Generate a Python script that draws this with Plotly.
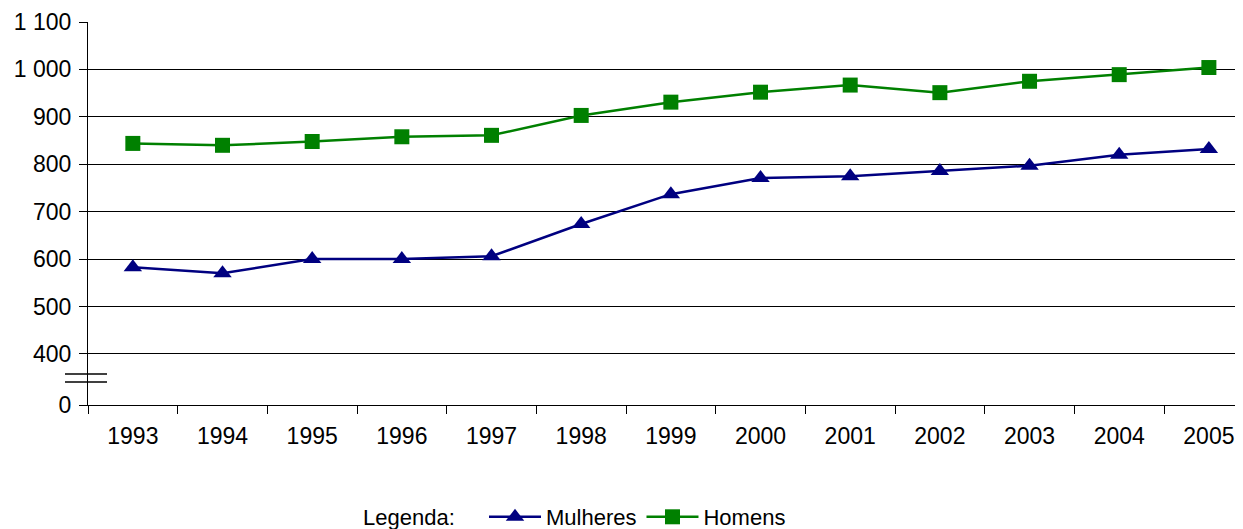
import plotly.graph_objects as go

years = ["1993", "1994", "1995", "1996", "1997", "1998", "1999",
         "2000", "2001", "2002", "2003", "2004", "2005"]
mulheres = [583, 570, 600, 600, 606, 674, 737, 771, 775, 786, 797, 820, 832]
homens = [844, 840, 848, 858, 861, 903, 931, 952, 967, 951, 975, 989, 1004]

# broken axis: "0" label shown at this axis position
zero_pos = 292.4
ytick_vals = [zero_pos, 400, 500, 600, 700, 800, 900, 1000, 1100]
ytick_text = ["0", "400", "500", "600", "700", "800", "900", "1 000", "1 100"]

FONT = "Liberation Sans, Arial, sans-serif"
FS = 23
LFS = 22

# page has an 8px body margin; figure is sized/offset to compensate
OFF = 8
W, H = 1243 - OFF, 529 - OFF
L, T, B = 88 - OFF, 22 - OFF, 124
PW = W - L
PH = H - T - B
LEG_Y = 517

fig = go.Figure()
fig.add_trace(go.Scatter(
    x=years, y=mulheres, name="Mulheres", mode="lines+markers",
    line=dict(color="#000080", width=2.5),
    marker=dict(symbol="triangle-up", size=16, color="#000080"),
))
fig.add_trace(go.Scatter(
    x=years, y=homens, name="Homens", mode="lines+markers",
    line=dict(color="#008000", width=2.5),
    marker=dict(symbol="square", size=15, color="#008000"),
))

# axis break marks
for yv in (358, 341):
    fig.add_shape(type="line", xref="paper", yref="y",
                  x0=(65 - 88) / PW, x1=(107 - 88) / PW, y0=yv, y1=yv,
                  line=dict(color="black", width=1.5))

fig.add_annotation(text="Legenda:", xref="paper", yref="paper",
                   x=(409 - 88) / PW, y=(405 - LEG_Y) / PH,
                   xanchor="center", yanchor="middle", showarrow=False,
                   font=dict(family=FONT, size=LFS, color="black"))

fig.update_layout(
    width=W, height=H,
    margin=dict(l=L, r=0, t=T, b=B, autoexpand=False),
    paper_bgcolor="white", plot_bgcolor="white",
    font=dict(family=FONT, size=FS, color="black"),
    showlegend=True,
    legend=dict(orientation="h", xref="paper", yref="container",
                x=(484 - 88) / PW, y=1 - (LEG_Y - OFF) / H,
                xanchor="left", yanchor="middle",
                font=dict(family=FONT, size=LFS, color="black"),
                itemwidth=52, tracegroupgap=0,
                bgcolor="rgba(0,0,0,0)"),
    xaxis=dict(type="category", range=[-0.5, -0.5 + PW / 89.67],
               showgrid=False, showline=True, linecolor="black", linewidth=1,
               ticks="outside", tickson="boundaries", ticklen=8,
               tickcolor="black", ticklabelstandoff=10,
               tickfont=dict(family=FONT, size=FS, color="black"),
               zeroline=False, fixedrange=True, automargin=False),
    yaxis=dict(range=[zero_pos, 1100], tickvals=ytick_vals, ticktext=ytick_text,
               showgrid=True, gridcolor="black", gridwidth=1,
               showline=True, linecolor="black", linewidth=1,
               ticks="outside", ticklen=8, tickcolor="black",
               ticklabelstandoff=3,
               tickfont=dict(family=FONT, size=FS, color="black"),
               zeroline=False, fixedrange=True, automargin=False),
)

fig.write_html("out.html")
